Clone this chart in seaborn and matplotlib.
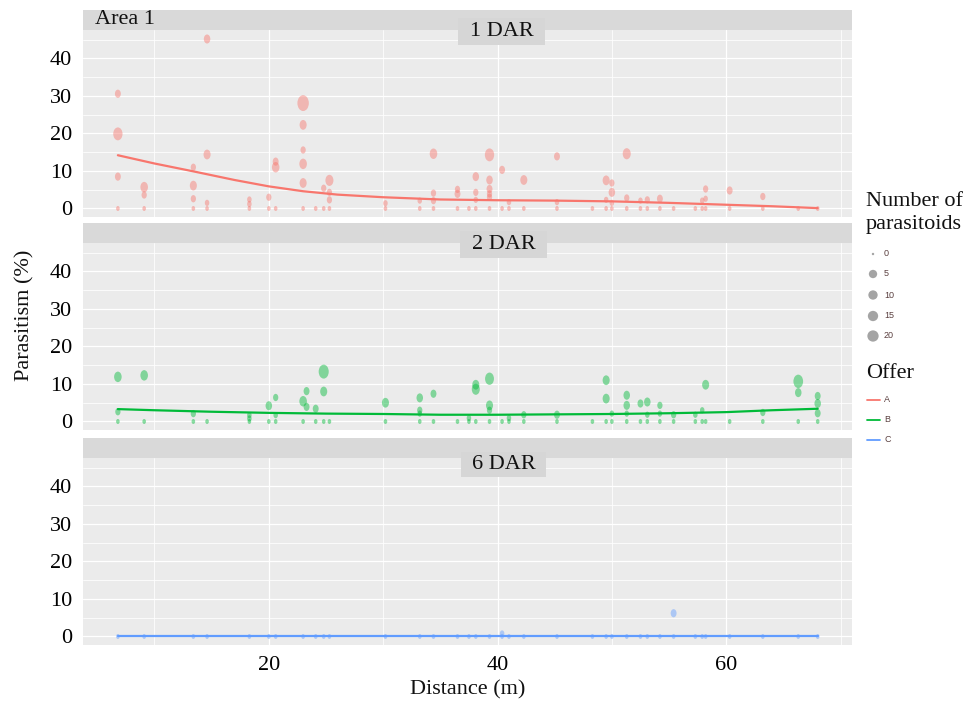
import numpy as np
import pandas as pd
import matplotlib
matplotlib.use("Agg")
import matplotlib.pyplot as plt
import seaborn as sns
from matplotlib.markers import MarkerStyle
from matplotlib.path import Path
from matplotlib.transforms import Affine2D
from matplotlib.patches import Rectangle
from matplotlib.ticker import MultipleLocator

# ---------------- data ----------------
distances = [6.8, 9.1, 13.4, 14.6, 18.3, 20.0, 20.6, 23.0, 24.1, 24.8, 25.3, 30.2,
             33.2, 34.4, 36.5, 37.5, 38.1, 39.3, 40.4, 41.0, 42.3, 45.2, 48.3, 49.5,
             50.0, 51.3, 52.5, 53.1, 54.2, 55.4, 57.3, 57.9, 58.2, 60.3, 63.2, 66.3, 68.0]

# Offer A (1 DAR): distance, parasitism %, number of parasitoids (non-zero records)
a_dist = [6.8, 6.8, 6.8, 9.1, 9.1, 13.4, 13.4, 13.4, 14.6, 14.6, 14.6, 18.3, 18.3, 20.0,
          20.6, 20.6, 23.0, 23.0, 23.0, 23.0, 23.0, 24.8, 25.3, 25.3, 25.3, 30.2, 33.2,
          34.4, 34.4, 34.4, 36.5, 36.5, 38.1, 38.1, 38.1, 39.3, 39.3, 39.3, 39.3, 39.3,
          40.4, 41.0, 42.3, 45.2, 45.2, 49.5, 49.5, 50.0, 50.0, 50.0, 51.3, 51.3, 52.5,
          53.1, 54.2, 57.9, 58.2, 58.2, 60.3, 63.2]
a_pct = [30.6, 19.9, 8.5, 5.7, 3.6, 11.0, 6.1, 2.6, 45.2, 14.4, 1.5, 2.4, 1.2, 3.0,
         12.5, 11.0, 28.1, 22.3, 15.6, 11.9, 6.8, 5.4, 7.5, 4.3, 2.3, 1.4, 2.1,
         14.6, 4.1, 2.1, 5.1, 3.9, 8.5, 4.3, 2.3, 14.3, 7.6, 5.2, 3.9, 3.0,
         10.3, 1.7, 7.6, 13.9, 1.7, 7.5, 2.3, 6.8, 4.3, 1.5, 14.6, 2.8, 2.1,
         2.3, 2.6, 2.1, 5.2, 2.6, 4.8, 3.2]
a_n = [3, 10, 3, 6, 2, 2, 5, 2, 4, 5, 1, 1, 1, 2,
       3, 6, 16, 5, 2, 6, 5, 2, 7, 2, 2, 1, 1,
       6, 2, 2, 2, 3, 4, 2, 1, 10, 4, 3, 2, 2,
       3, 1, 5, 3, 1, 5, 1, 2, 4, 1, 7, 2, 1,
       2, 3, 1, 2, 1, 3, 2]

# Offer B (2 DAR)
b_dist = [6.8, 6.8, 9.1, 13.4, 18.3, 18.3, 20.0, 20.6, 20.6, 23.0, 23.3, 23.3, 24.1,
          24.8, 24.8, 30.2, 33.2, 33.2, 33.2, 34.4, 37.5, 38.1, 38.1, 39.3, 39.3, 39.3,
          41.0, 42.3, 45.2, 49.5, 49.5, 50.0, 51.3, 51.3, 51.3, 52.5, 53.1, 53.1, 54.2,
          54.2, 55.4, 57.3, 57.9, 58.2, 63.2, 66.3, 66.3, 68.0, 68.0, 68.0]
b_pct = [11.9, 2.6, 12.3, 2.1, 1.7, 0.8, 4.2, 6.4, 1.7, 5.4, 8.1, 3.9, 3.4,
         13.3, 8.0, 5.0, 6.3, 3.0, 2.1, 7.4, 0.9, 9.8, 8.6, 11.4, 4.3, 3.0,
         0.9, 1.8, 1.8, 11.0, 6.1, 2.1, 7.0, 4.3, 2.1, 4.8, 5.2, 1.8, 4.3,
         2.1, 1.8, 1.8, 3.0, 9.8, 2.4, 10.7, 7.7, 6.8, 4.8, 2.2]
b_n = [6, 2, 6, 2, 1, 1, 4, 2, 1, 6, 3, 3, 3,
       12, 5, 5, 4, 2, 1, 3, 1, 5, 7, 9, 5, 2,
       1, 2, 3, 5, 5, 1, 4, 4, 1, 3, 4, 1, 2,
       1, 2, 1, 1, 5, 2, 11, 4, 3, 4, 3]

# Offer C (6 DAR)
c_dist = [40.4, 55.4]
c_pct = [0.8, 6.2]
c_n = [1, 3]

# smoothed trend lines
a_line_x = [6.8, 10, 13.4, 17, 20, 23, 26, 30, 35, 40, 45, 50, 55, 60, 64, 68.0]
a_line_y = [14.2, 12.0, 9.9, 7.6, 5.9, 4.6, 3.7, 3.0, 2.4, 2.2, 2.1, 1.9, 1.5, 1.0, 0.6, 0.1]
b_line_x = [6.8, 10, 15, 20, 25, 30, 35, 40, 45, 50, 55, 60, 64, 68.0]
b_line_y = [3.3, 3.0, 2.6, 2.3, 2.1, 2.0, 1.8, 1.8, 1.9, 2.0, 2.2, 2.5, 3.0, 3.4]
c_line_x = [6.8, 68.0]
c_line_y = [0.0, 0.0]

panel_titles = ["1 DAR", "2 DAR", "6 DAR"]
offers = ["A", "B", "C"]
offer_colors = ["#F8766D", "#00BA38", "#619CFF"]
legend_counts = [0, 5, 10, 15, 20]
y_ticks = [0, 10, 20, 30, 40]
x_ticks = [20, 40, 60]

# ---------------- style ----------------
sns.set_theme(style="darkgrid")
plt.rcParams["font.family"] = ["Liberation Serif", "DejaVu Serif"]
plt.rcParams["axes.facecolor"] = "#EBEBEB"

W, H = 971, 708
fig = plt.figure(figsize=(W / 100, H / 100), dpi=100)
fig.patch.set_facecolor("white")


def fx(x):
    return x / W


def fy(y):
    return 1 - y / H


ellipse = MarkerStyle(Path.unit_circle().transformed(Affine2D().scale(0.72, 1.0)))

panels_px = [(30, 217), (243, 430), (458, 645)]
strips_px = [(10, 30), (223, 243), (438, 458)]
boxes_px = [(458, 18, 545, 45), (460, 231, 547, 258), (461, 452, 546, 477)]
left_px, right_px = 83, 852

datasets = [
    (a_dist, a_pct, a_n, a_line_x, a_line_y),
    (b_dist, b_pct, b_n, b_line_x, b_line_y),
    (c_dist, c_pct, c_n, c_line_x, c_line_y),
]

for i, (d, p, n, lx, ly) in enumerate(datasets):
    top, bot = panels_px[i]
    ax = fig.add_axes([fx(left_px), fy(bot), fx(right_px - left_px), (bot - top) / H])
    # zero-count records at every sampled distance + non-zero records
    df = pd.DataFrame({
        "dist": list(distances) + list(d),
        "pct": [0.0] * len(distances) + list(p),
        "n": [0] * len(distances) + list(n),
    })
    sns.scatterplot(data=df, x="dist", y="pct", size="n", sizes=(13, 160),
                    size_norm=(0, 20), color=offer_colors[i], alpha=0.45,
                    marker=ellipse, linewidth=0, edgecolor="none",
                    legend=False, ax=ax, zorder=3)
    sns.lineplot(x=lx, y=ly, color=offer_colors[i], lw=1.6, ax=ax, zorder=4)
    ax.set_xlim(3.75, 71.0)
    ax.set_ylim(-2.27, 47.6)
    ax.set_xticks(x_ticks)
    ax.set_yticks(y_ticks)
    ax.xaxis.set_minor_locator(MultipleLocator(10))
    ax.yaxis.set_minor_locator(MultipleLocator(5))
    ax.grid(which="major", color="white", lw=0.9)
    ax.grid(which="minor", color="white", lw=0.55)
    for s in ax.spines.values():
        s.set_visible(False)
    ax.tick_params(axis="both", which="major", length=4, width=0.8, color="#333333",
                   labelsize=16, labelcolor="black", pad=4)
    ax.tick_params(which="minor", length=0)
    ax.set_xlabel("")
    ax.set_ylabel("")
    if i < 2:
        ax.tick_params(axis="x", labelbottom=False, length=0)
    # strip
    st, sb = strips_px[i]
    fig.add_artist(Rectangle((fx(left_px), fy(sb)), fx(right_px - left_px), (sb - st) / H,
                             transform=fig.transFigure, facecolor="#D9D9D9",
                             edgecolor="none", zorder=5))
    # DAR label box
    x0, y0, x1, y1 = boxes_px[i]
    fig.add_artist(Rectangle((fx(x0), fy(y1)), fx(x1 - x0), (y1 - y0) / H,
                             transform=fig.transFigure, facecolor="#D6D6D6",
                             edgecolor="none", zorder=6))
    fig.text(fx((x0 + x1) / 2), fy((y0 + y1) / 2), panel_titles[i], ha="center",
             va="center", fontsize=16, color="#111111", zorder=7)

fig.text(fx(95), fy(20), "Area 1", ha="left", va="center", fontsize=16,
         color="#111111", zorder=7)
fig.text(fx(25), fy(315), "Parasitism (%)", rotation=90, ha="center", va="center",
         fontsize=16, color="#111111")
fig.text(fx(468), fy(690), "Distance (m)", ha="center", va="center", fontsize=16,
         color="#111111")

# ---------------- legend ----------------
lg = fig.add_axes([fx(855), 0, fx(W - 855), 1])
lg.set_xlim(855, W)
lg.set_ylim(H, 0)
lg.axis("off")
lg.text(866, 201, "Number of", fontsize=16, ha="left", va="center", color="#111111")
lg.text(866, 224, "parasitoids", fontsize=16, ha="left", va="center", color="#111111")
legend_s = [3, 36, 45, 55, 66]
leg_y = [254, 274, 295, 316, 336]
sns.scatterplot(x=[873] * 5, y=leg_y, s=legend_s, color="#9A9A9A", alpha=0.9,
                linewidth=0, ax=lg, legend=False)
for yy, c in zip(leg_y, legend_counts):
    lg.text(884, yy, str(c), fontsize=6.5, family="Liberation Sans", ha="left",
            va="center", color="#5b4040")
lg.text(866, 374, "Offer", fontsize=16, ha="left", va="center", color="#111111")
for k, (o, col) in enumerate(zip(offers, offer_colors)):
    yy = 400 + 20 * k
    lg.plot([867, 880], [yy, yy], color=col, lw=1.3)
    lg.text(884, yy, o, fontsize=6.5, family="Liberation Sans", ha="left",
            va="center", color="#5b4040")
lg.set_xlim(855, W)
lg.set_ylim(H, 0)

fig.savefig("out.png", dpi=100)
